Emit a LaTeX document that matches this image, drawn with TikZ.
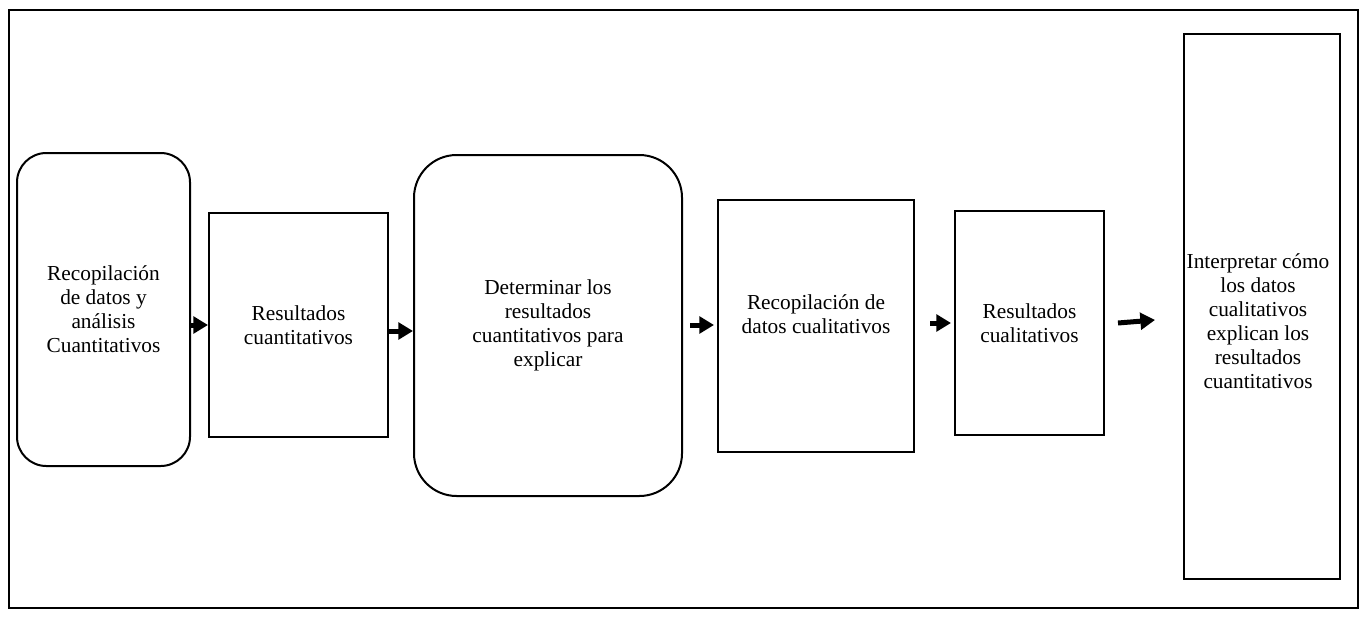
\documentclass[tikz,border=0pt]{standalone}
\usepackage{fontspec}
\setmainfont{Liberation Serif}
\usetikzlibrary{arrows.meta,calc}

\begin{document}
\begin{tikzpicture}[x=0.75pt,y=-0.75pt,
	stage/.style={draw,line width=1.5pt,inner sep=0pt,align=center,font=\fontsize{16}{18}\selectfont},
	rstage/.style={stage,rounded corners=#1},
	txt/.style={align=center,font=\fontsize{16}{18}\selectfont},
	flow/.style={line width=3.75pt,-{Triangle[length=11pt,width=12.5pt]}}]
	\useasboundingbox (0,0) rectangle (1362,621);
	\draw[line width=2pt] (9,10) rectangle (1358,608);% outer frame
	% stages
	\node[rstage=22pt,minimum width=129.75pt,minimum height=234.75pt] (b1) at (103.5,309.5) {Recopilación\\de datos y\\análisis\\Cuantitativos};
	\node[stage,minimum width=134.25pt,minimum height=168pt] (b2) at (298.5,325) {Resultados\\cuantitativos};
	\node[rstage=32pt,minimum width=201pt,minimum height=255.75pt] (b3) at (548,325.5) {Determinar los\\resultados\\cuantitativos para\\explicar};
	\node[stage,minimum width=147pt,minimum height=189pt] (b4) at (816,326) {};
	\node[txt] (t4) at (816,314) {Recopilación de\\datos cualitativos};
	\node[stage,minimum width=111.75pt,minimum height=168pt] (b5) at (1029.5,323) {Resultados\\cualitativos};
	\node[stage,minimum width=117pt,minimum height=408.75pt] (b6) at (1262,306.5) {};
	\node[txt] (t6) at (1258,321) {Interpretar cómo\\los datos\\cualitativos\\explican los\\resultados\\cuantitativos};
	% arrows
	\coordinate (f3) at (690,325);
	\coordinate (f4) at (930,323);
	\coordinate (f5) at (1118,323);
	\coordinate (e5) at (1155,320);
	\draw[flow] (b1.east |- b2.west) -- (b2.west);
	\draw[flow] ($(b2.east)+(0,6)$) -- ($(b3.west)+(0,5.5)$);
	\draw[flow] (f3) -- ($(b4.west |- f3)+(-3,0)$);
	\draw[flow] (f4) -- ($(b5.west |- f4)+(-3,0)$);
	\draw[flow] (f5) -- (e5);
\end{tikzpicture}
\end{document}
